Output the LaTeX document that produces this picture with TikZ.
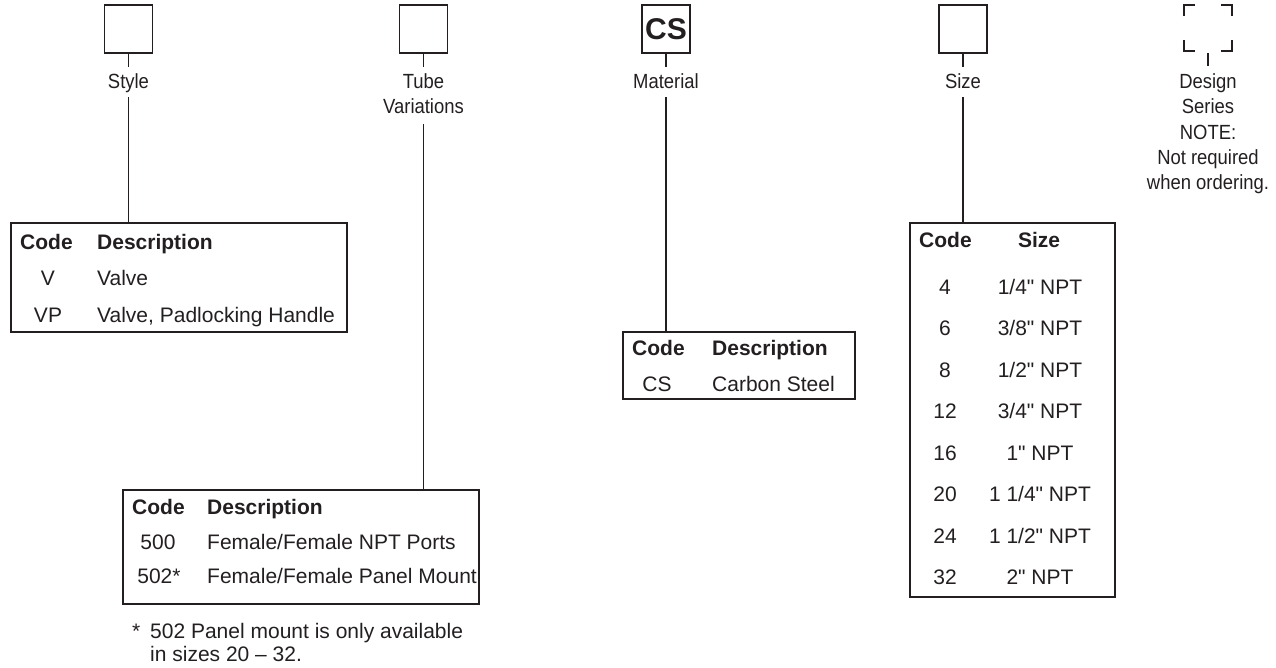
\documentclass[tikz,border=0pt]{standalone}
\usepackage{fontspec}
\setmainfont[Ligatures=TeXOff]{Liberation Sans}
\newfontfamily\lblfont[FakeStretch=0.9]{Liberation Sans}
\definecolor{ink}{HTML}{231F20}
\tikzset{
  inkline/.style={draw=ink, line width=1.6pt},
  codebox/.style={inkline, minimum width=48pt, minimum height=48pt, inner sep=0pt, outer sep=0pt},
  corner/.style={draw=ink, line width=2.3pt},
  tbl/.style={inkline, inner sep=0pt, outer sep=0pt, anchor=north west},
  tx/.style={font=\fontsize{21}{25}\selectfont, text=ink, inner sep=0pt},
  hd/.style={font=\fontsize{21}{25}\selectfont\bfseries, text=ink, inner sep=0pt},
  lbl/.style={font=\lblfont\fontsize{20.5}{25}\selectfont, text=ink, inner sep=0pt, anchor=base},
}
\begin{document}
\begin{tikzpicture}[x=1pt,y=-1pt]
\useasboundingbox (0,0) rectangle (1276,667);
% ---- top code boxes
\node[codebox] (bstyle) at (128.5,29) {};
\node[codebox] (btube) at (423.5,29) {};
\node[codebox, font=\fontsize{30}{30}\selectfont\bfseries, text=ink] (bmat) at (666,29) {CS};
\node[codebox] (bsize) at (963,29) {};
\node[minimum width=48pt, minimum height=46pt, inner sep=0pt, outer sep=0pt] (bdes) at (1208,28) {};
\draw[corner] ([yshift=-11pt]bdes.north west) -- (bdes.north west) -- ([xshift=11pt]bdes.north west);
\draw[corner] ([xshift=-11pt]bdes.north east) -- (bdes.north east) -- ([yshift=-11pt]bdes.north east);
\draw[corner] ([yshift=11pt]bdes.south west) -- (bdes.south west) -- ([xshift=11pt]bdes.south west);
\draw[corner] ([xshift=-11pt]bdes.south east) -- (bdes.south east) -- ([yshift=11pt]bdes.south east);
% ---- labels
\node[lbl] (lstyle) at (128.5,88) {Style};
\node[lbl] (ltube1) at (423.5,88) {Tube};
\node[lbl] (ltube2) at (423.5,113) {Variations};
\node[lbl] (lmat) at (666,88) {Material};
\node[lbl] (lsize) at (963,88) {Size};
\node[lbl] (ldes1) at (1208,88) {Design};
\node[lbl] (ldes2) at (1208,113) {Series};
\node[lbl] (ldes3) at (1208,139) {NOTE:};
\node[lbl] (ldes4) at (1208,164) {Not required};
\node[lbl] (ldes5) at (1208,189) {when ordering.};
% ---- connector end points
\coordinate (tstyle) at (128.5,67); \coordinate (sstyle) at (128.5,97);
\coordinate (ttubec) at (423.5,67); \coordinate (stube) at (423.5,124);
\coordinate (tmatc) at (666,67);    \coordinate (smat) at (666,97);
\coordinate (tsizec) at (963,67);   \coordinate (ssize) at (963,97);
\coordinate (tdes0) at (1208,53);   \coordinate (tdes) at (1208,66);
% ---- tables
\node[tbl, minimum width=336pt, minimum height=109pt] (tstylet) at (11,223) {};
\node[tbl, minimum width=356pt, minimum height=114pt] (ttubet) at (123,490) {};
\node[tbl, minimum width=232pt, minimum height=67pt] (tmatt) at (623,332) {};
\node[tbl, minimum width=205pt, minimum height=374pt] (tsizet) at (910,223) {};
% ---- connectors
\draw[inkline] (bstyle.south) -- (tstyle);
\draw[inkline] (sstyle) -- (sstyle |- tstylet.north);
\draw[inkline] (btube.south) -- (ttubec);
\draw[inkline] (stube) -- (stube |- ttubet.north);
\draw[inkline] (bmat.south) -- (tmatc);
\draw[inkline] (smat) -- (smat |- tmatt.north);
\draw[inkline] (bsize.south) -- (tsizec);
\draw[inkline] (ssize) -- (ssize |- tsizet.north);
\draw[inkline] (tdes0) -- (tdes);
% ---- Style table text
\node[hd, anchor=base west] (s-h1) at (20,249.5) {Code};
\node[hd, anchor=base west] (s-h2) at (97,249.5) {Description};
\node[tx, anchor=base] (s-c1) at (48,285.5) {V};
\node[tx, anchor=base west] (s-d1) at (97,285.5) {Valve};
\node[tx, anchor=base] (s-c2) at (48,322.5) {VP};
\node[tx, anchor=base west] (s-d2) at (97,322.5) {Valve, Padlocking Handle};
% ---- Tube table text
\node[hd, anchor=base west] (t-h1) at (132,514.5) {Code};
\node[hd, anchor=base west] (t-h2) at (207,514.5) {Description};
\node[tx, anchor=base] (t-c1) at (158,549.5) {500};
\node[tx, anchor=base west] (t-d1) at (207,549.5) {Female/Female NPT Ports};
\node[tx, anchor=base] (t-c2) at (159,583.5) {502*};
\node[tx, anchor=base west] (t-d2) at (207,583.5) {Female/Female Panel Mount};
\node[tx, anchor=base west] (t-f0) at (132,638) {*};
\node[tx, anchor=base west] (t-f1) at (150,638) {502 Panel mount is only available};
\node[tx, anchor=base west] (t-f2) at (150,661) {in sizes 20 – 32.};
% ---- Material table text
\node[hd, anchor=base west] (m-h1) at (632,355.5) {Code};
\node[hd, anchor=base west] (m-h2) at (712,355.5) {Description};
\node[tx, anchor=base] (m-c1) at (657,391.5) {CS};
\node[tx, anchor=base west] (m-d1) at (712,391.5) {Carbon Steel};
% ---- Size table text
\node[hd, anchor=base west] (z-h1) at (919,247.5) {Code};
\node[hd, anchor=base] (z-h2) at (1039,247.5) {Size};
\foreach \c/\s [count=\i from 0] in {4/{1/4" NPT},6/{3/8" NPT},8/{1/2" NPT},12/{3/4" NPT},16/{1" NPT},20/{1 1/4" NPT},24/{1 1/2" NPT},32/{2" NPT}}{
  \node[tx, anchor=base] (z-c\i) at (945,294.5+41.43*\i) {\c};
  \node[tx, anchor=base] (z-s\i) at (1040,294.5+41.43*\i) {\s};
}
\end{tikzpicture}
\end{document}
